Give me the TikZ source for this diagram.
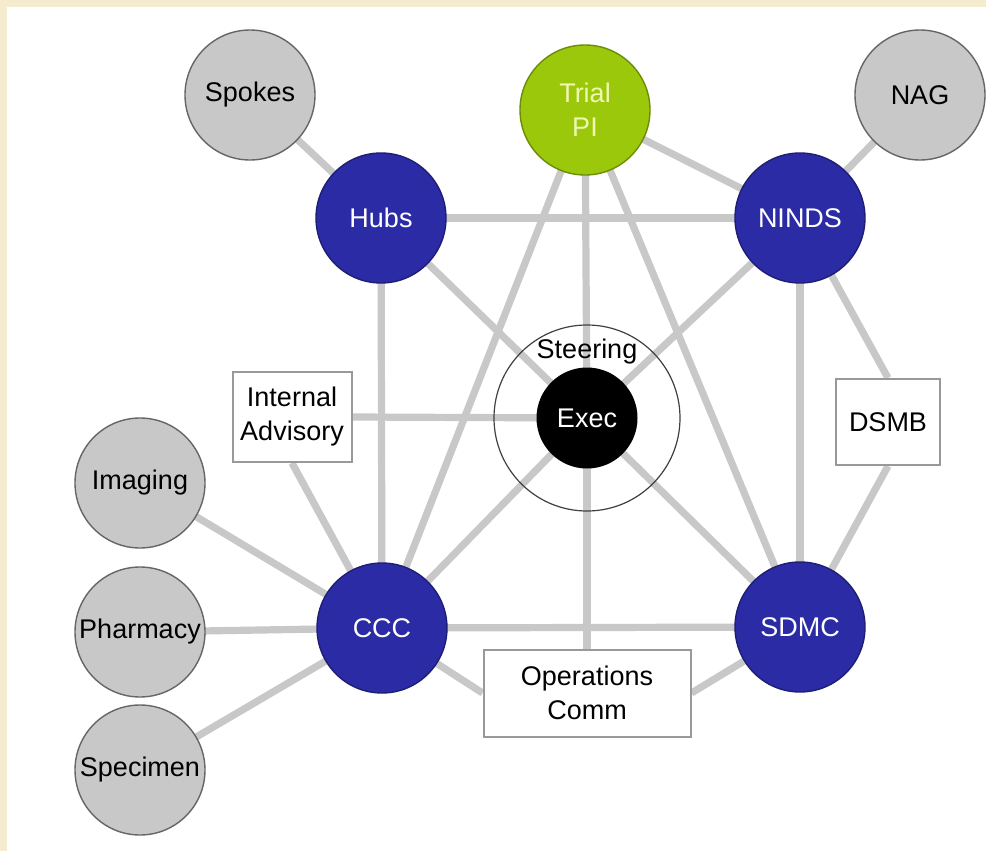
\documentclass[tikz,border=0pt]{standalone}
\usepackage{fontspec}
\setmainfont{Liberation Sans}
\definecolor{bgbeige}{RGB}{245,236,208}
\definecolor{nblue}{RGB}{43,43,166}
\definecolor{ngreen}{RGB}{156,200,12}
\definecolor{ngray}{RGB}{200,200,200}
\definecolor{edgegray}{RGB}{200,200,200}
\definecolor{pitext}{RGB}{240,248,176}
\pgfdeclarelayer{bglayer}
\pgfdeclarelayer{edgelayer}
\pgfsetlayers{bglayer,edgelayer,main}
\begin{document}
\begin{tikzpicture}[x=0.5pt,y=-0.5pt,
  every node/.style={font=\fontsize{13.5}{17}\selectfont},
  conn/.style={draw=edgegray,line width=3.6pt},
  bluecirc/.style={circle,fill=nblue,draw=nblue!70!black,line width=0.7pt,minimum size=65pt,inner sep=0pt,text=white},
  graycirc/.style={circle,fill=ngray,draw=black!60,line width=0.7pt,minimum size=65pt,inner sep=0pt,text=black},
  greencirc/.style={circle,fill=ngreen,draw=ngreen!70!black,line width=0.7pt,minimum size=65pt,inner sep=0pt,text=pitext},
  boxnode/.style={rectangle,fill=white,draw=black!40,line width=1pt,align=center,inner sep=0pt}
]
\useasboundingbox (0,0) rectangle (986,851);
\begin{pgfonlayer}{bglayer}
\fill[bgbeige] (0,0) rectangle (986,851);
\fill[white] (7,7) rectangle (986,851);
\end{pgfonlayer}

% nodes
\node[graycirc] (spokes) at (250,95) {Spokes};
\node[greencirc,align=center] (pi) at (585,110) {Trial\\PI};
\node[graycirc] (nag) at (920,95) {NAG};
\node[bluecirc] (hubs) at (381,218) {Hubs};
\node[bluecirc] (ninds) at (800,218) {NINDS};
\node[circle,draw=black!75,line width=0.6pt,minimum size=93pt,inner sep=0pt] (steer) at (587,418) {};
\node[circle,fill=black,minimum size=50.5pt,inner sep=0pt,text=white] (exec) at (587,418) {Exec};
\node (steerlbl) at (587,352) {Steering};
\node[boxnode,minimum width=59.5pt,minimum height=45pt] (iadv) at (292,417) {Internal\\Advisory};
\node[boxnode,minimum width=52pt,minimum height=43pt] (dsmb) at (888,422) {DSMB};
\node[graycirc] (imaging) at (140,483) {Imaging};
\node[graycirc] (pharm) at (140,632) {Pharmacy};
\node[graycirc] (spec) at (140,770) {Specimen};
\node[bluecirc] (ccc) at (382,628) {CCC};
\node[bluecirc] (sdmc) at (800,627) {SDMC};
\node[boxnode,minimum width=103.5pt,minimum height=43.5pt] (ops) at (587,693) {Operations\\Comm};

% connectors (behind nodes)
\begin{pgfonlayer}{edgelayer}
\draw[conn] (spokes.center) -- (hubs.center);
\draw[conn] (nag.center) -- (ninds.center);
\draw[conn] (pi.center) -- (ninds.center);
\draw[conn] (pi.center) -- (exec.center);
\draw[conn] (pi.center) -- (ccc.center);
\draw[conn] (pi.center) -- (sdmc.center);
\draw[conn] (hubs.center) -- (ninds.center);
\draw[conn] (hubs.center) -- (ccc.center);
\draw[conn] (hubs.center) -- (exec.center);
\draw[conn] (ninds.center) -- (exec.center);
\draw[conn] (ninds.center) -- (sdmc.center);
\draw[conn] (ninds.center) -- (dsmb.north);
\draw[conn] (dsmb.south) -- (sdmc.center);
\draw[conn] (iadv.east) -- (exec.center);
\draw[conn] (iadv.south) -- (ccc.center);
\draw[conn] (ccc.center) -- (exec.center);
\draw[conn] (sdmc.center) -- (exec.center);
\draw[conn] (ccc.center) -- (sdmc.center);
\draw[conn] (exec.center) -- (ops.north);
\draw[conn] (ccc.center) -- (ops.west);
\draw[conn] (sdmc.center) -- (ops.east);
\draw[conn] (imaging.center) -- (ccc.center);
\draw[conn] (pharm.center) -- (ccc.center);
\draw[conn] (spec.center) -- (ccc.center);
\end{pgfonlayer}
\end{tikzpicture}
\end{document}
